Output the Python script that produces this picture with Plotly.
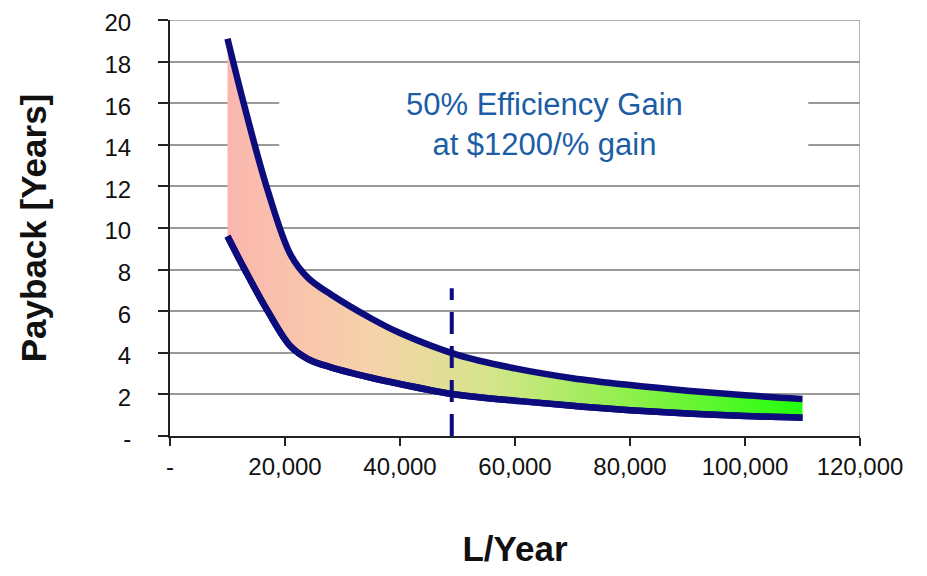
"""Payback vs. annual volume for a 50% efficiency gain."""

import plotly.graph_objects as go

# ── Data ──────────────────────────────────────────────────────────────────────

litres_per_year = [10000, 13000, 17000, 21000, 24000, 28000, 35000, 40000,
                   50000, 60000, 70000, 80000, 90000, 100000, 110000]
payback_high = [19.1, 15.8, 11.8, 8.7, 7.6, 6.8, 5.65, 4.95,
                3.9, 3.25, 2.78, 2.45, 2.18, 1.96, 1.78]
payback_low = [9.6, 8.0, 6.0, 4.3, 3.7, 3.3, 2.8, 2.5,
               1.98, 1.7, 1.45, 1.24, 1.08, 0.96, 0.88]

marker_x = [49000, 49000]
marker_y = [0, 7.1]

y_ticks = [0, 2, 4, 6, 8, 10, 12, 14, 16, 18, 20]
y_ticktext = ["-", "2", "4", "6", "8", "10", "12", "14", "16", "18", "20"]
x_ticks = [0, 20000, 40000, 60000, 80000, 100000, 120000]
x_ticktext = ["-", "20,000", "40,000", "60,000", "80,000", "100,000", "120,000"]

# ── Theme ─────────────────────────────────────────────────────────────────────

_FONT = "Arial, Liberation Sans, sans-serif"
_NAVY = "#0c0c7c"
_GRID = "#9a9a9a"
_TEXT_BLUE = "#1c5ea6"
_GRADIENT = [
    [0.0, "#fbb6ae"],
    [0.25, "#f6d2aa"],
    [0.45, "#d6e58c"],
    [0.7, "#8ef04a"],
    [1.0, "#22ff0c"],
]

# page body has an 8px margin, so the figure is sized to sit inside it
fig = go.Figure()
fig.add_trace(go.Scatter(
    x=litres_per_year, y=payback_low,
    mode="lines", line=dict(color=_NAVY, width=6.5, shape="spline", smoothing=1.0),
    showlegend=False, hoverinfo="skip",
))
fig.add_trace(go.Scatter(
    x=litres_per_year, y=payback_high,
    mode="lines", line=dict(color=_NAVY, width=6.5, shape="spline", smoothing=1.0),
    fill="tonexty",
    fillgradient=dict(type="horizontal", colorscale=_GRADIENT,
                      start=litres_per_year[0], stop=litres_per_year[-1]),
    showlegend=False, hoverinfo="skip",
))
# redraw the lower curve so it sits above the fill
fig.add_trace(go.Scatter(
    x=litres_per_year, y=payback_low,
    mode="lines", line=dict(color=_NAVY, width=6.5, shape="spline", smoothing=1.0),
    showlegend=False, hoverinfo="skip",
))
fig.add_trace(go.Scatter(
    x=marker_x, y=marker_y,
    mode="lines", line=dict(color=_NAVY, width=4, dash="22px,12px"),
    showlegend=False, hoverinfo="skip",
))

# white panel behind the label, hides the gridlines like the original
fig.add_shape(type="rect", xref="x", yref="y", x0=19000, x1=111000, y0=12.9, y1=17.2,
              fillcolor="white", line_width=0, layer="between")
fig.add_shape(type="line", xref="x", yref="y", x0=120000, x1=120000, y0=0, y1=20,
              line=dict(color=_GRID, width=1.5))
fig.add_shape(type="line", xref="x", yref="y", x0=0, x1=120000, y0=20, y1=20,
              line=dict(color=_GRID, width=1.5))

fig.add_annotation(
    x=65200, y=15.0, xref="x", yref="y",
    text="50% Efficiency Gain<br>at $1200/% gain",
    showarrow=False, align="center",
    font=dict(family=_FONT, size=31, color=_TEXT_BLUE),
)

fig.update_layout(
    width=911, height=560,
    template="plotly_white",
    paper_bgcolor="white", plot_bgcolor="white",
    margin=dict(l=162, r=59, t=12, b=132, autoexpand=False),
    font=dict(family=_FONT, color="#111111"),
    xaxis=dict(
        range=[0, 120000], tickvals=x_ticks, ticktext=x_ticktext,
        showgrid=False, zeroline=False, automargin=False,
        showline=True, linecolor="#222222", linewidth=2,
        ticks="outside", ticklen=8, tickwidth=1.5, tickcolor="#222222",
        tickfont=dict(size=24, family=_FONT), ticklabeloverflow="allow",
        title=dict(text="<b>L/Year</b>", font=dict(size=35, family=_FONT), standoff=66),
    ),
    yaxis=dict(
        range=[0, 20], tickvals=y_ticks, ticktext=y_ticktext,
        showgrid=True, gridcolor=_GRID, gridwidth=1.5, zeroline=False, automargin=False,
        showline=True, linecolor="#222222", linewidth=2,
        ticks="outside", ticklen=10, tickwidth=1.5, tickcolor="#222222",
        tickfont=dict(size=24, family=_FONT), ticklabelstandoff=22, ticklabelshift=3,
        ticklabeloverflow="allow",
        title=dict(text="<b>Payback [Years]</b>", font=dict(size=35, family=_FONT), standoff=47),
    ),
)

fig.write_html("out.html")
